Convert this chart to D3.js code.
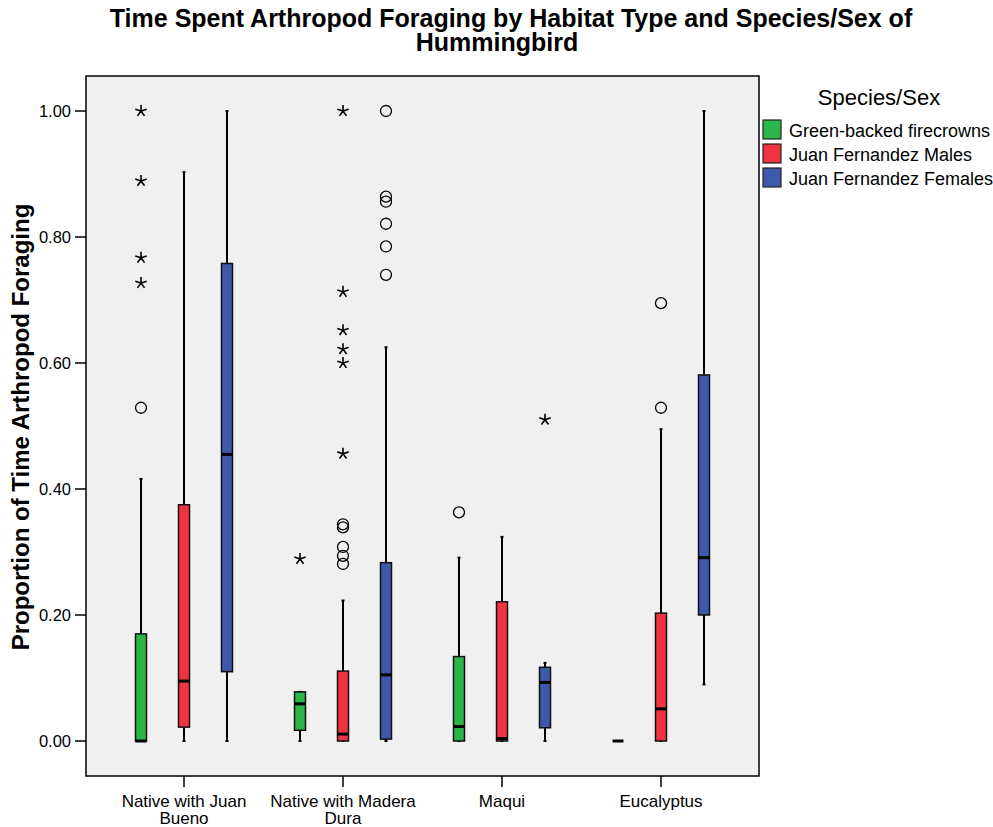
<!DOCTYPE html>
<html><head><meta charset="utf-8">
<script src="https://cdn.jsdelivr.net/npm/d3@7"></script>
<style>body{margin:0;background:#fff;font-family:"Liberation Sans",Arial,sans-serif;}</style>
</head><body><svg id="c" width="993" height="827"></svg>
<script>
const categories = ["Native with Juan Bueno","Native with Madera Dura","Maqui","Eucalyptus"];
const categoryLines = [["Native with Juan","Bueno"],["Native with Madera","Dura"],["Maqui"],["Eucalyptus"]];
const series = ["Green-backed firecrowns","Juan Fernandez Males","Juan Fernandez Females"];
const colors = ["#2cb548","#ef3340","#3e58aa"];
// per category, per series
const whiskerLow = [[0,0,0],[0,0,0],[0,0,0],[0,0,0.090]];
const q1 =        [[0,0.022,0.110],[0.017,0,0.003],[0,0,0.021],[0,0,0.200]];
const median =    [[0,0.095,0.455],[0.059,0.011,0.105],[0.023,0.004,0.093],[0,0.051,0.291]];
const q3 =        [[0.170,0.375,0.758],[0.078,0.111,0.283],[0.134,0.221,0.117],[0,0.203,0.581]];
const whiskerHigh=[[0.416,0.903,1.0],[0.078,0.223,0.625],[0.291,0.324,0.124],[0,0.495,1.0]];
const circles = [[[0.529],[],[]],
                 [[],[0.344,0.339,0.308,0.294,0.281],[1.0,0.864,0.856,0.821,0.785,0.740]],
                 [[0.363],[],[]],
                 [[],[0.695,0.529],[]]];
const stars = [[[1.0,0.889,0.767,0.727],[],[]],
               [[0.289],[1.0,0.713,0.652,0.622,0.600,0.456],[]],
               [[],[],[0.510]],
               [[],[],[]]];
const yTicks = [0,0.2,0.4,0.6,0.8,1.0];

const svg = d3.select("#c");
const W = 673, H = 700;
const g = svg.append("g").attr("transform","translate(86,76)");
const y = d3.scaleLinear().domain([-0.05556,1.05556]).range([H,0]);
const x = d3.scalePoint().domain(categories).range([98,575]);
const xs = d3.scalePoint().domain(series).range([-43,43]);
const bw = 11;

g.append("rect").attr("width",W).attr("height",H).attr("fill","#f0f0f0");

categories.forEach((cat,ci)=>{
  series.forEach((s,si)=>{
    const cx = x(cat)+xs(s);
    const gg = g.append("g");
    gg.append("line").attr("x1",cx).attr("x2",cx).attr("y1",y(q3[ci][si])).attr("y2",y(whiskerHigh[ci][si])).attr("stroke","#000").attr("stroke-width",2);
    gg.append("line").attr("x1",cx).attr("x2",cx).attr("y1",y(q1[ci][si])).attr("y2",y(whiskerLow[ci][si])).attr("stroke","#000").attr("stroke-width",2);
    [whiskerHigh[ci][si],whiskerLow[ci][si]].forEach(v=>{
      gg.append("line").attr("x1",cx-1.5).attr("x2",cx+1.5).attr("y1",y(v)).attr("y2",y(v)).attr("stroke","#000").attr("stroke-width",2);
    });
    gg.append("rect").attr("x",cx-bw/2).attr("width",bw)
      .attr("y",y(q3[ci][si])).attr("height",Math.max(0,y(q1[ci][si])-y(q3[ci][si])))
      .attr("fill",colors[si]).attr("stroke","#111").attr("stroke-width",1.5);
    gg.append("line").attr("x1",cx-bw/2).attr("x2",cx+bw/2).attr("y1",y(median[ci][si])).attr("y2",y(median[ci][si])).attr("stroke","#000").attr("stroke-width",3);
    circles[ci][si].forEach(v=>{
      gg.append("circle").attr("cx",cx).attr("cy",y(v)).attr("r",5.5).attr("fill","none").attr("stroke","#000").attr("stroke-width",1.3);
    });
    stars[ci][si].forEach(v=>{
      const p = d3.path();
      for(let k=0;k<5;k++){
        const a = -Math.PI/2 + k*2*Math.PI/5;
        p.moveTo(cx,y(v)); p.lineTo(cx+6*Math.cos(a), y(v)+6*Math.sin(a));
      }
      gg.append("path").attr("d",p.toString()).attr("stroke","#000").attr("stroke-width",1.6).attr("fill","none");
    });
  });
});

g.append("rect").attr("width",W).attr("height",H).attr("fill","none").attr("stroke","#000").attr("stroke-width",1.5);

// y axis
const ya = g.append("g");
yTicks.forEach(t=>{
  ya.append("line").attr("x1",-11).attr("x2",0).attr("y1",y(t)).attr("y2",y(t)).attr("stroke","#000").attr("stroke-width",1.5);
  ya.append("text").attr("x",-15).attr("y",y(t)).attr("dy","0.35em").attr("text-anchor","end").attr("font-size",16.5).text(t.toFixed(2));
});
// x axis
categories.forEach((cat,ci)=>{
  g.append("line").attr("x1",x(cat)).attr("x2",x(cat)).attr("y1",H).attr("y2",H+11).attr("stroke","#000").attr("stroke-width",1.5);
  categoryLines[ci].forEach((ln,li)=>{
    g.append("text").attr("x",x(cat)).attr("y",H+31+li*17).attr("text-anchor","middle").attr("font-size",17).text(ln);
  });
});

// title
svg.append("text").attr("x",511).attr("y",27).attr("text-anchor","middle").attr("font-size",25).attr("font-weight","bold").text("Time Spent Arthropod Foraging by Habitat Type and Species/Sex of");
svg.append("text").attr("x",497).attr("y",51).attr("text-anchor","middle").attr("font-size",25).attr("font-weight","bold").text("Hummingbird");

// y label
svg.append("text").attr("transform","translate(29,427) rotate(-90)").attr("text-anchor","middle").attr("font-size",24).attr("font-weight","bold").text("Proportion of Time Arthropod Foraging");

// legend
svg.append("text").attr("x",879).attr("y",105).attr("text-anchor","middle").attr("font-size",22).text("Species/Sex");
series.forEach((s,si)=>{
  const ly = 120+si*24;
  svg.append("rect").attr("x",763).attr("y",ly).attr("width",18).attr("height",19).attr("fill",colors[si]).attr("stroke","#222").attr("stroke-width",1.2);
  svg.append("text").attr("x",789).attr("y",ly+17).attr("font-size",18).text(s);
});
</script></body></html>
